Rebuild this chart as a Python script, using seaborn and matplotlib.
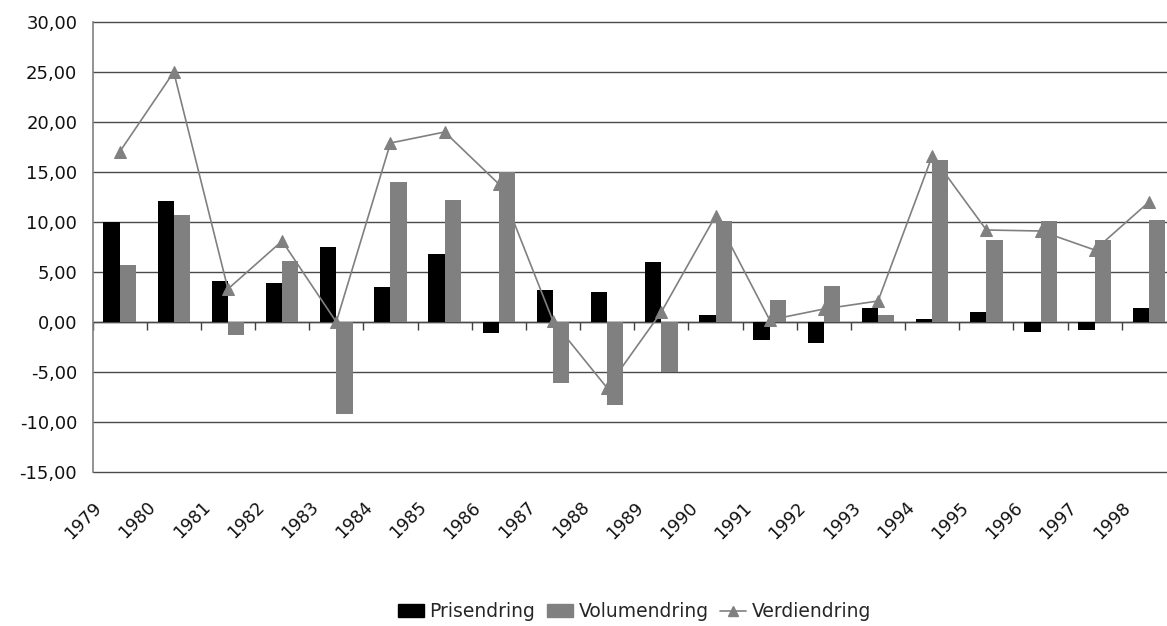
import numpy as np
import pandas as pd
import matplotlib
matplotlib.use("Agg")
import matplotlib.pyplot as plt
from matplotlib.patches import Patch
from matplotlib.lines import Line2D
from matplotlib.ticker import FuncFormatter
from matplotlib.transforms import ScaledTranslation
import seaborn as sns

years = [str(y) for y in range(1979, 1999)]
prisendring = [10.0, 12.1, 4.1, 3.9, 7.5, 3.5, 6.8, -1.1, 3.2, 3.0,
               6.0, 0.7, -1.8, -2.1, 1.4, 0.3, 1.0, -1.0, -0.8, 1.4]
volumendring = [5.7, 10.7, -1.3, 6.1, -9.2, 14.0, 12.2, 15.0, -6.1, -8.3,
                -5.0, 10.1, 2.2, 3.6, 0.7, 16.2, 8.2, 10.1, 8.2, 10.2]
verdiendring = [17.0, 25.0, 3.3, 8.1, 0.0, 17.9, 19.0, 13.8, 0.1, -6.6,
                1.0, 10.6, 0.2, 1.3, 2.1, 16.6, 9.2, 9.1, 7.2, 12.0]
series_names = ["Prisendring", "Volumendring", "Verdiendring"]

sns.set_style("white")
plt.rcParams['font.family'] = ['DejaVu Sans']

df = pd.DataFrame({
    "year": years * 2,
    "series": [series_names[0]] * len(years) + [series_names[1]] * len(years),
    "value": prisendring + volumendring,
})

fig = plt.figure(figsize=(11.67, 6.26), dpi=100)
ax = fig.add_axes([92.5 / 1167, 1 - 472 / 626, (1176 - 92.5) / 1167, 450 / 626])

grid_color = "#4a4a4a"
bar_colors = ["#000000", "#808080"]

sns.barplot(data=df, x="year", y="value", hue="series", palette=bar_colors,
            width=0.6, saturation=1, legend=False, ax=ax, zorder=2,
            linewidth=0, edgecolor="none")

sns.lineplot(x=np.arange(len(years)), y=verdiendring, color="#808080",
             marker="^", markersize=8, markeredgecolor="#808080",
             linewidth=1.2, ax=ax, zorder=3)

ax.set_xlim(-0.5, len(years) - 0.5)
ax.set_ylim(-15, 30)
ax.set_yticks(np.arange(-15, 31, 5))
ax.yaxis.set_major_formatter(FuncFormatter(lambda v, p: f"{v:.2f}".replace(".", ",")))
ax.yaxis.grid(True, color=grid_color, linewidth=1)
for gl in ax.get_ygridlines():
    gl.set_clip_on(False)
ax.set_axisbelow(True)
ax.set_xlabel("")
ax.set_ylabel("")

for s in ["top", "right", "bottom"]:
    ax.spines[s].set_visible(False)
ax.spines["left"].set_color("#808080")
ax.spines["left"].set_linewidth(1.2)
ax.spines["left"].set_zorder(2.5)

ax.tick_params(axis="y", length=6, width=1, color="#808080", labelsize=13,
               pad=5, labelcolor="#111111")
ax.set_xticks(np.arange(len(years)))
ax.set_xticklabels(years, rotation=45, ha="right", rotation_mode="anchor",
                   fontsize=12.5, color="#111111")
ax.tick_params(axis="x", length=0, pad=19)
shift = ScaledTranslation(-0.27, 0, fig.dpi_scale_trans)
for lbl in ax.get_xticklabels():
    lbl.set_transform(lbl.get_transform() + shift)

# zero line with category boundary ticks
zero_frac = (0 - (-15)) / (30 - (-15))
sec = ax.secondary_xaxis(zero_frac)
sec.set_xticks(np.arange(-0.5, len(years), 1))
sec.set_xticklabels([])
sec.tick_params(axis="x", length=6, width=1, color="#404040", direction="out")
sec.spines["bottom"].set_color("#404040")
sec.spines["bottom"].set_linewidth(1)

handles = [
    Patch(facecolor=bar_colors[0], edgecolor=bar_colors[0]),
    Patch(facecolor=bar_colors[1], edgecolor=bar_colors[1]),
    Line2D([0], [0], color="#808080", marker="^", markersize=7, linewidth=1.2),
]
ax.legend(handles, series_names, loc="center", bbox_to_anchor=(0.5, -0.311),
          ncol=3, frameon=False, handlelength=1.4, handletextpad=0.3,
          columnspacing=0.6, prop={"size": 13.5})

fig.savefig("out.png", dpi=100)
